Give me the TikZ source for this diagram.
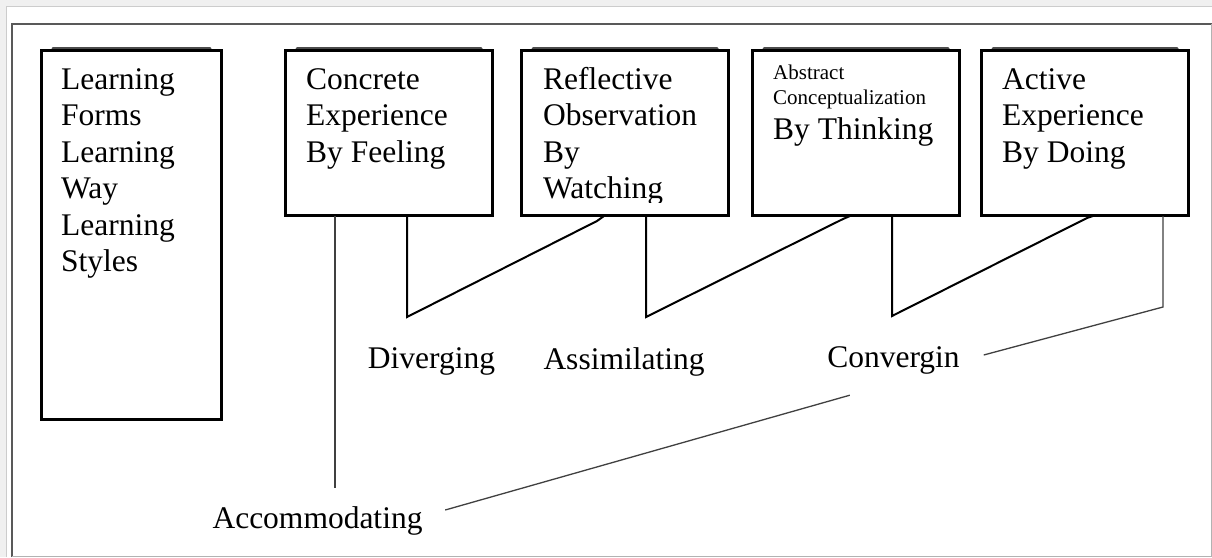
\documentclass[tikz,border=0pt]{standalone}
\usepackage{fontspec}
\setmainfont{Liberation Serif}
\usetikzlibrary{calc}
\newcommand\bigsz{\fontsize{31.5}{36.5}\selectfont}
\newcommand\smallsz{\fontsize{21}{25}\selectfont}

\begin{document}
\begin{tikzpicture}[x=1pt,y=-1pt,
  box/.style={draw=black, line width=2pt, rectangle, inner sep=0pt, anchor=north west},
  boxtext/.style={anchor=base west, inner sep=0pt},
  tag/.style={fill=white, inner sep=0pt, font=\bigsz},
  conn/.style={line width=2pt, line join=miter},
  thinconn/.style={line width=1.3pt, draw=black!75},
  topshade/.style={line width=3pt, draw=black!70, line cap=round}
]
\useasboundingbox (0,0) rectangle (1212,557);

% page and frame
\fill[black!6] (0,0) rectangle (1212,557);
\fill[white] (6,6) rectangle (1212,557);
\draw[black!20, line width=1pt] (6.5,557) -- (6.5,6.5) -- (1212,6.5);
\draw[black!65, line width=1.6pt] (12,557) -- (12,24) -- (1212,24);
\draw[black!30, line width=1pt] (1211,24) -- (1211,556) -- (12,556);

% boxes
\node[box, minimum width=179pt, minimum height=368pt] (learn) at (41,50) {};
\node[box, minimum width=206pt, minimum height=164pt] (conc) at (285,50) {};
\node[box, minimum width=206pt, minimum height=164pt] (refl) at (521,50) {};
\node[box, minimum width=206pt, minimum height=164pt] (abst) at (752,50) {};
\node[box, minimum width=206pt, minimum height=164pt] (actv) at (981,50) {};

% shading along the top edges
\foreach \b in {learn,conc,refl,abst,actv}{
  \draw[topshade] ($(\b.north west)+(12,-2)$) -- ($(\b.north east)+(-12,-2)$);
  \draw[box, fill=none] (\b.north west) rectangle (\b.south east);
}

% box texts
\node[boxtext] (learnT) at (61,89) {\parbox[t]{150pt}{\bigsz Learning\\Forms\\Learning\\Way\\Learning\\Styles}};
\node[boxtext] (concT) at (306,89) {\parbox[t]{180pt}{\bigsz Concrete\\Experience\\By Feeling}};
\begin{scope}
  \clip (521,50) rectangle (727,202);
  \node[boxtext] (reflT) at (543,89) {\parbox[t]{180pt}{\bigsz Reflective\\Observation\\By\\Watching}};
\end{scope}
\node[boxtext] (abstT) at (773,79) {\parbox[t]{180pt}{\smallsz Abstract\\Conceptualization\par\fontsize{31.5}{35}\selectfont By Thinking}};
\node[boxtext] (actvT) at (1002,89) {\parbox[t]{180pt}{\bigsz Active\\Experience\\By Doing}};

% style labels
\node[tag, minimum width=255pt, minimum height=66pt] (acc) at (317.5,521) {Accommodating};
\node[tag, minimum width=177pt, minimum height=70pt] (div) at (431.5,361.7) {Diverging};
\node[tag, minimum width=208pt, minimum height=70pt] (assim) at (624,361.7) {Assimilating};
\node[tag, minimum width=177pt, minimum height=70pt] (conv) at (893.5,360) {Convergin};

% connectors
\coordinate (a1) at ($(conc.south west)+(50,0)$);
\coordinate (v1) at (407,317);
\coordinate (k1) at (597,221);
\coordinate (v2) at (646,317);
\coordinate (k2) at (843,219);
\coordinate (v3) at (892,316);
\coordinate (k3) at (1087,218);
\coordinate (v4) at (1163,307);

\draw[thinconn, line width=1.6pt] (a1) -- (a1 |- acc.north);
\draw[conn] ($(conc.south west)+(122,0)$) -- (v1) -- (k1) -- ($(refl.south west)+(83,0)$);
\draw[conn] ($(refl.south west)+(125,0)$) -- (v2) -- (k2) -- ($(abst.south west)+(98,0)$);
\draw[conn] ($(abst.south west)+(140,0)$) -- (v3) -- (k3) -- ($(actv.south west)+(112,0)$);
\draw[thinconn] ($(actv.south west)+(182,0)$) -- (v4) -- ($(conv.east)+(1.5,-5)$);
\draw[thinconn] ($(conv.south west)+(45,0)$) -- ($(acc.east)+(0,-11)$);
\end{tikzpicture}
\end{document}
